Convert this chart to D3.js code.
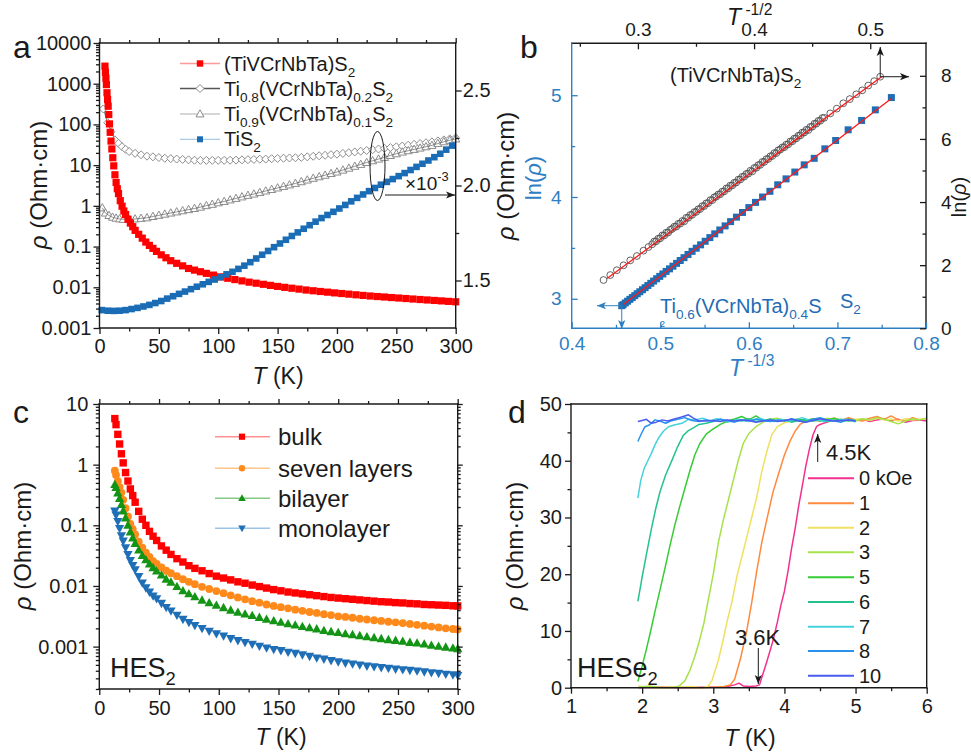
<!DOCTYPE html>
<html><head><meta charset="utf-8">
<script src="https://cdn.jsdelivr.net/npm/d3@7"></script>
<style>body{margin:0;background:#fff}svg{display:block}</style>
</head><body><svg id="fig" width="971" height="756"></svg>
<script>
// ---------------- DATA ----------------
// Panel a
const A_RED_T = [4.6,5.0,5.4,5.8,6.3,6.8,7.3,7.8,8.4,9.0,9.7,10.4,11.2,12.0,13,14,15,16,17.5,19,20.5,22,24,26,28,30,33,36,39,42,45,48,52,56,60,65,70,75,80,85,90,96,102,108,114,120,126,132,138,144,150,156,162,168,174,180,186,192,198,204,210,216,222,228,234,240,246,252,258,264,270,276,282,288,294,300];
const A_RED_RHO = [2700,1930,1370,950,600,410,280,175,103,64,39,25,15.2,9.6,5.8,3.76,2.63,2.0,1.34,0.98,0.748,0.612,0.469,0.378,0.308,0.25,0.200,0.161,0.129,0.107,0.0904,0.0762,0.0627,0.0531,0.045,0.0388,0.0336,0.029,0.0264,0.0241,0.022,0.0199,0.018,0.01667,0.01545,0.01436,0.01336,0.01259,0.01184,0.01114,0.0105,0.00997,0.00948,0.00902,0.00857,0.00822,0.00789,0.00759,0.00729,0.00703,0.00678,0.00654,0.00631,0.00611,0.00593,0.00577,0.0056,0.00545,0.0053,0.00515,0.00501,0.00488,0.00475,0.00463,0.00451,0.0044];
const A_TIS2_T = [2,7,12,17,22,27,32,37,42,47,52,57,62,67,72,77,82,87,92,97,102,107,112,117,122,127,132,137,142,147,152,157,162,167,172,177,182,187,192,197,202,207,212,217,222,227,232,237,242,247,252,257,262,267,272,277,282,287,292,297];
const A_TIS2_RHO = [0.00275,0.00266,0.00263,0.00266,0.00275,0.00292,0.00312,0.00338,0.0037,0.0041,0.0046,0.00527,0.00603,0.00689,0.00785,0.009,0.01032,0.01186,0.01358,0.01552,0.01774,0.0208,0.024,0.0283,0.034,0.0414,0.051,0.063,0.078,0.0966,0.119,0.147,0.182,0.223,0.274,0.335,0.409,0.501,0.598,0.714,0.861,1.054,1.29,1.57,1.905,2.30,2.75,3.31,3.88,4.55,5.37,6.38,7.59,9.06,10.8,13.0,15.7,19.05,24.0,30.2];
const A_TI08_T = [3.2,6.9,9.7,13,16,19,22,25,30,35,40,45,50,55,60,65,70,75,80,85,90,95,100,105,110,115,120,125,130,135,140,145,150,155,160,165,170,175,180,185,190,195,200,205,210,215,220,225,230,235,240,245,250,255,260,265,270,275,280,285,290,295,300];
const A_TI08_RHO = [240,110,66,41.7,34.4,28.4,24.5,21.6,19.5,18.0,16.6,16.0,15.4,14.8,14.45,14.1,13.8,13.5,13.2,13.1,13.1,13.1,13.1,13.1,13.2,13.3,13.5,13.6,13.8,14.0,14.1,14.4,14.6,14.8,15.0,15.2,15.5,16.0,16.5,17.0,17.5,18.1,18.6,19.4,20.2,21.1,22.0,22.9,23.9,24.9,25.9,27.0,28.2,29.5,30.9,32.4,33.9,35.5,37.2,39.4,41.7,44.2,46.8];
const A_TI09_T = [2.4,5,8,11,14,17,20,25,30,35,40,45,50,55,60,65,70,75,80,85,90,95,100,105,110,115,120,125,130,135,140,145,150,155,160,165,170,175,180,185,190,195,200,205,210,215,220,225,230,235,240,245,250,255,260,265,270,275,280,285,290,295,300];
const A_TI09_RHO_E3 = [1.882,1.855,1.842,1.833,1.828,1.824,1.822,1.821,1.824,1.827,1.830,1.837,1.843,1.849,1.855,1.861,1.867,1.873,1.879,1.886,1.894,1.901,1.909,1.916,1.924,1.932,1.940,1.948,1.955,1.963,1.971,1.979,1.987,1.995,2.003,2.011,2.020,2.029,2.038,2.046,2.054,2.063,2.071,2.081,2.091,2.101,2.111,2.121,2.130,2.139,2.148,2.158,2.167,2.176,2.183,2.190,2.197,2.204,2.211,2.221,2.230,2.238,2.245];
const A_LEFT_TICKS = [0.001,0.01,0.1,1,10,100,1000,10000];
const A_RIGHT_TICKS = [1.5,2.0,2.5];
const A_X_TICKS = [0,50,100,150,200,250,300];

// Panel b
const B_HE_X = [0.2704,0.2762,0.2819,0.2876,0.2934,0.2991,0.3048,0.3091,0.3123,0.3157,0.3192,0.3226,0.3261,0.3295,0.3330,0.3364,0.3399,0.3433,0.3467,0.3502,0.3536,0.3571,0.3605,0.3640,0.3674,0.3709,0.3743,0.3778,0.3812,0.3846,0.3881,0.3915,0.3950,0.3984,0.4019,0.4053,0.4088,0.4122,0.4157,0.4191,0.4225,0.4260,0.4294,0.4329,0.4363,0.4398,0.4432,0.4467,0.4501,0.4536,0.4570,0.4604,0.4656,0.4712,0.4768,0.4824,0.4880,0.4931,0.4983,0.5034,0.5086,
  0.3140,0.3175,0.3209,0.3244,0.3278,0.3313,0.3347,0.3382,0.3416,0.3450,0.3485,0.3519,0.3554,0.3588,0.3623,0.3657,0.3692,0.3726,0.3761,0.3795,0.3829,0.3864,0.3898,0.3933,0.3967,0.4002,0.4036,0.4071,0.4105,0.4140,0.4174,0.4208,0.4243,0.4277,0.4312,0.4346,0.4381,0.4415,0.4450,0.4484,0.4519,0.4553,0.4587];
const B_HE_LN = [1.53,1.687,1.841,1.995,2.152,2.29,2.460,2.576,2.663,2.755,2.850,2.941,3.036,3.15,3.223,3.315,3.39,3.501,3.593,3.688,3.780,3.874,3.966,4.061,4.17,4.248,4.339,4.434,4.526,4.618,4.713,4.805,4.899,4.97,5.086,5.178,5.272,5.364,5.459,5.551,5.66,5.737,5.829,5.924,6.016,6.111,6.203,6.28,6.389,6.484,6.576,6.668,6.809,6.960,7.13,7.262,7.414,7.54,7.692,7.830,7.971,
  2.75,2.84,2.94,3.03,3.12,3.22,3.31,3.40,3.50,3.59,3.68,3.77,3.87,3.96,4.06,4.15,4.24,4.33,4.43,4.52,4.61,4.71,4.80,4.89,4.99,5.08,5.17,5.27,5.36,5.45,5.55,5.64,5.73,5.82,5.92,6.01,6.10,6.20,6.29,6.38,6.48,6.57,6.66];
const B_HE_FIT_X = [0.2734,0.5101];
const B_HE_FIT_LN = [1.576,7.978];
const B_TI06_X = [0.7609,0.7428,0.7273,0.7121,0.6980,0.6858,0.6738,0.6625,0.6519,0.6420,0.6326,0.6238,0.6155,0.6075,0.6000,0.5928,0.5860,0.5794,0.5732,0.5672,0.5615,0.5560,0.5507,0.5455,0.5406,0.5359,0.5313,0.5268,0.5225,0.5184,0.5143,0.5104,0.5066,0.5029,0.4994,0.4959,0.4925,0.4893,0.4860,0.4829,0.4799,0.4769,0.4740,0.4712,0.4684,0.4657,0.4631,0.4605,0.4580,0.4565];
const B_TI06_LN = [4.977,4.856,4.752,4.66,4.555,4.473,4.38,4.316,4.245,4.178,4.12,4.056,4.000,3.947,3.896,3.848,3.802,3.758,3.716,3.676,3.638,3.601,3.565,3.530,3.497,3.466,3.435,3.404,3.376,3.348,3.320,3.294,3.269,3.244,3.220,3.197,3.174,3.152,3.130,3.109,3.089,3.069,3.050,3.031,3.012,2.994,2.976,2.959,2.942,2.932];
const B_TI06_FIT_X = [0.4583,0.7613];
const B_TI06_FIT_LN = [2.944,4.97];

// Panel c
const C_T = [13,14,15.5,17,18.5,20,22,24,26,28,30,33,36,39,42,45,48,52,56,60,65,70,75,80,86,92,98,104,110,116,122,128,134,140,146,152,158,164,170,176,182,188,194,200,206,212,218,224,230,236,242,248,254,260,266,272,278,284,290,296,300];
const C_BULK = [5.75,4.57,3.16,2.19,1.51,1.07,0.741,0.537,0.398,0.309,0.240,0.170,0.126,0.100,0.0794,0.0661,0.0562,0.0457,0.0389,0.0331,0.0282,0.0248,0.0216,0.0195,0.0178,0.0160,0.0145,0.0135,0.0126,0.0117,0.0111,0.01035,0.00977,0.00923,0.00871,0.00832,0.00794,0.00767,0.00741,0.00716,0.00692,0.00668,0.00646,0.00631,0.00617,0.00603,0.00589,0.00575,0.00562,0.00550,0.00543,0.00531,0.00525,0.00513,0.00507,0.00495,0.00490,0.00484,0.00479,0.00471,0.00468];
const C_SEVEN = [0.794,0.676,0.537,0.427,0.347,0.263,0.191,0.140,0.105,0.0861,0.0708,0.0537,0.0427,0.0355,0.0302,0.0257,0.0232,0.0202,0.0178,0.0162,0.0145,0.0129,0.0117,0.0107,0.00966,0.00891,0.00822,0.00759,0.00700,0.00646,0.00603,0.00562,0.00531,0.00495,0.00468,0.00447,0.00427,0.00407,0.00389,0.00372,0.00359,0.00343,0.00331,0.00316,0.00309,0.00299,0.00288,0.00280,0.00272,0.00265,0.00257,0.00251,0.00244,0.00237,0.00229,0.00221,0.00214,0.00207,0.00200,0.00195,0.00192];
const C_BI = [0.468,0.417,0.339,0.275,0.219,0.172,0.132,0.100,0.0776,0.0617,0.0501,0.0389,0.0316,0.0269,0.0229,0.0200,0.0176,0.0151,0.0129,0.0115,0.00977,0.00832,0.00741,0.00661,0.00582,0.00525,0.00479,0.00437,0.00398,0.00367,0.00343,0.00324,0.00302,0.00282,0.00266,0.00251,0.00237,0.00226,0.00214,0.00204,0.00195,0.00184,0.00176,0.00170,0.00162,0.00157,0.00151,0.00145,0.00140,0.00135,0.00130,0.00126,0.00122,0.00117,0.00114,0.00110,0.00105,0.00101,0.000977,0.000944,0.000923];
const C_MONO = [0.172,0.148,0.116,0.0891,0.0676,0.0550,0.0427,0.0331,0.0263,0.0219,0.0186,0.0143,0.0112,0.00933,0.00794,0.00684,0.00617,0.00519,0.00442,0.00389,0.00331,0.00282,0.00251,0.00224,0.00200,0.00180,0.00164,0.00150,0.00136,0.00126,0.00117,0.00110,0.00102,0.000955,0.000902,0.000861,0.000813,0.000776,0.000733,0.000692,0.000653,0.000624,0.000589,0.000562,0.000537,0.000519,0.000501,0.000479,0.000468,0.000452,0.000442,0.000427,0.000417,0.000407,0.000398,0.000385,0.000372,0.000363,0.000351,0.000343,0.000336];
const C_LABELS = ['bulk','seven layers','bilayer','monolayer'];
const C_LEFT_TICKS = [0.001,0.01,0.1,1,10];

// Panel d
const D_LABELS = ['0 kOe','1','2','3','5','6','7','8','10'];
const D_T0 = [1.95,2.2,2.5,2.8,3.05,3.2,3.3,3.36,3.42,3.5,3.6,3.65,3.7,3.75,3.84,3.9,3.95,4.0,4.05,4.1,4.15,4.2,4.25,4.3,4.35,4.4,4.45,4.5,4.6,4.7,4.8,4.9,5.0,5.1,5.2,5.3,5.4,5.5,5.6,5.7,5.8,5.9,6.0];
const D_R0 = [0,0.1,0,0.1,0.1,0.2,0.5,0.8,0.3,0.2,0.3,0.5,2.5,4.5,8.3,11.5,14.5,17,20.5,24.5,28,32,35.5,39,42,44.5,46,46.4,46.8,47.2,47.0,47.4,47.1,47.3,46.9,47.2,47.4,47.0,47.3,46.8,47.1,47.2,47.0];
const D_T1 = [1.95,2.2,2.5,2.8,3.0,3.15,3.24,3.3,3.38,3.47,3.54,3.61,3.68,3.75,3.84,3.92,4.0,4.08,4.15,4.22,4.3,4.4,4.5,4.6,4.7,4.8,4.9,5.0,5.1,5.2,5.3,5.4,5.5,5.6,5.7,5.8,5.9,6.0];
const D_R1 = [0.2,0.1,0.1,0,0.1,0.2,0.5,1.5,5,10,15,20.5,25.5,29.5,34.5,37.8,41,43.5,45.2,46.4,47,47.2,47.0,47.3,47.5,47.1,47.6,47.2,47.0,47.5,47.8,47.3,47.9,47.2,47.0,47.6,47.2,47.5];
const D_T2 = [1.95,2.2,2.5,2.7,2.85,2.93,2.98,3.07,3.14,3.2,3.26,3.33,3.4,3.47,3.54,3.61,3.68,3.75,3.82,3.9,4.0,4.1,4.2,4.3,4.4,4.5,4.6,4.7,4.8,4.9,5.0,5.1,5.2,5.3,5.4,5.5,5.6,5.7,5.8,5.9,6.0];
const D_R2 = [0.2,0,0.1,0.2,0,0.3,1.2,4.8,8.5,12,15,19.5,23,26.5,30,33.5,38,41.5,44.5,46,46.7,47,47.2,47.3,47.0,47.4,47.1,47.5,47.2,47.0,47.3,47.4,47.1,47.5,47.2,47.3,47.0,47.4,47.2,47.3,47.4];
const D_T3 = [1.95,2.1,2.3,2.45,2.52,2.6,2.67,2.74,2.8,2.87,2.93,3.0,3.07,3.14,3.21,3.28,3.35,3.42,3.5,3.6,3.7,3.8,3.9,4.0,4.1,4.2,4.3,4.4,4.5,4.6,4.7,4.8,4.9,5.0,5.1,5.2,5.3,5.4,5.5,5.6,5.7,5.8,5.9,6.0];
const D_R3 = [0.1,0.3,0,0.1,0.3,1.2,3,5.5,8,11.5,15.5,20,25.5,29.5,33,36.5,40,43,44.8,46,46.8,47.3,47.5,47.0,47.2,47.4,46.9,47.3,47.1,47.5,47.2,46.9,47.3,47.0,47.4,47.2,47.6,47.3,46.9,46.5,47.0,47.4,47.2,47.5];
const D_T5 = [1.94,2.0,2.06,2.12,2.18,2.25,2.32,2.39,2.46,2.53,2.6,2.67,2.74,2.81,2.9,3.0,3.1,3.2,3.31,3.4,3.5,3.6,3.7,3.8,3.9,4.0,4.1,4.2,4.3,4.4,4.5,4.6,4.7,4.8,4.9,5.0];
const D_R5 = [1.1,3.8,6.8,10,13.4,17.2,21,25,28.7,32,35.1,38.2,41,43,44.7,45.6,46.4,47,47.4,47.8,47.2,47.9,47.1,47.3,47.0,47.2,46.9,47.3,47.1,47.4,47.0,47.2,47.5,47.1,47.3,47.0];
const D_T6 = [1.94,2.0,2.06,2.13,2.19,2.25,2.33,2.42,2.5,2.58,2.65,2.72,2.8,2.9,3.0,3.1,3.2,3.3,3.4,3.5,3.6,3.7,3.8,3.9,4.0,4.1,4.2,4.3,4.4,4.5,4.6,4.7,4.8,4.9,5.0];
const D_R6 = [15.2,19.5,23.5,28,31.5,34.5,37.5,40.1,42.5,44.5,45.3,45.8,46.4,46.6,46.9,47.3,46.8,47.2,47.0,47.4,46.9,47.1,47.3,47.0,47.2,46.8,47.1,47.3,47.0,47.2,46.9,47.1,47.3,47.0,47.2];
const D_T7 = [1.94,1.98,2.03,2.08,2.13,2.18,2.23,2.3,2.37,2.45,2.56,2.65,2.74,2.85,2.95,3.05,3.15,3.25,3.35,3.45,3.55,3.65,3.75,3.85,3.95,4.05,4.15,4.25,4.35,4.45,4.55,4.65,4.75,4.85,4.95,5.0];
const D_R7 = [33.4,36.5,38.7,40,41.3,42.8,44,45.2,46,46.3,46.6,47.3,47.2,47.5,47.0,47.4,47.1,46.9,47.3,47.0,47.2,47.5,47.1,46.9,47.3,47.0,47.2,47.6,47.1,47.3,46.9,47.2,47.0,47.3,47.1,46.8];
const D_T8 = [1.94,1.99,2.04,2.1,2.18,2.25,2.33,2.4,2.5,2.6,2.7,2.8,2.9,3.0,3.1,3.2,3.3,3.4,3.5,3.6,3.7,3.8,3.9,4.0,4.1,4.2,4.3,4.4,4.5,4.6,4.7,4.8,4.9,5.0];
const D_R8 = [43.4,44.8,46,46.3,47.2,47.0,46.6,47.0,47.3,47.6,47.1,46.9,47.2,47.0,47.3,47.1,46.8,47.2,47.0,47.3,47.1,46.9,47.2,47.0,47.4,47.1,46.8,47.3,47.6,47.2,47.0,46.8,47.2,47.0];
const D_T10 = [1.94,2.0,2.06,2.13,2.2,2.28,2.36,2.44,2.52,2.6,2.65,2.72,2.8,2.9,3.0,3.1,3.2,3.3,3.4,3.5,3.6,3.7,3.8,3.9,4.0,4.1,4.2,4.3,4.4,4.5,4.6,4.7,4.8,4.9,5.0];
const D_R10 = [46.9,47.1,47.3,46.6,46.8,47.2,47.0,47.3,47.6,47.9,48.1,47.5,47.0,47.0,47.1,46.9,47.2,47.0,47.2,47.1,46.8,47.0,47.2,46.9,47.1,47.3,47.0,46.8,47.1,47.4,47.2,47.0,47.1,47.2,47.0];

// ---------------- DRAWING ----------------
const svg = d3.select('#fig');
const FONT = '"Liberation Sans", Arial, Helvetica, sans-serif';
const K = '#1a1a1a';
const BLUEAX = '#2f80c3';
svg.append('rect').attr('width',971).attr('height',756).attr('fill','#fff');
const defs = svg.append('defs');
function arrowMarker(id, color){
  defs.append('marker').attr('id',id).attr('viewBox','0 0 10 10').attr('refX',10).attr('refY',5)
    .attr('markerWidth',10).attr('markerHeight',9).attr('markerUnits','userSpaceOnUse').attr('orient','auto')
    .append('path').attr('d','M0,1L10,5L0,9L2.5,5Z').attr('fill',color);
}
arrowMarker('ahK', K); arrowMarker('ahB', BLUEAX);

function rich(sel, x, y, parts, fs, opts={}){
  const t = sel.append('text').attr('x',x).attr('y',y).attr('font-size',fs)
    .attr('font-family',FONT).attr('text-anchor',opts.anchor||'start').attr('fill',opts.fill||K);
  if (opts.rotate) t.attr('transform',`rotate(${opts.rotate},${x},${y})`);
  let shift = 0;
  parts.forEach(p=>{
    const [s,k] = typeof p==='string' ? [p,''] : p;
    const target = k==='sub' ? fs*0.3 : (k==='sup' ? -fs*0.45 : 0);
    const ts = t.append('tspan').text(s).attr('dy', target - shift);
    shift = target;
    if (k==='sub'||k==='sup') ts.attr('font-size', fs*0.68);
    if (k==='i') ts.attr('font-style','italic');
  });
  return t;
}
function drawAxis(parent, gen, o){
  gen.tickValues(o.values).tickSizeInner(o.size).tickSizeOuter(0).tickPadding(o.pad||3);
  gen.tickFormat(o.format===undefined ? '' : o.format);
  const g = parent.append('g').attr('transform',`translate(${o.x||0},${o.y||0})`).call(gen);
  g.attr('font-family',FONT).attr('font-size',o.fs||20);
  g.select('.domain').remove();
  g.selectAll('line').attr('stroke',o.color||K).attr('stroke-width',1.3);
  g.selectAll('text').attr('fill',o.color||K);
  return g;
}
function frame(g, x0,y0,x1,y1, cols){
  const c = cols || [K,K,K,K]; // top,right,bottom,left
  const seg = [[x0,y0,x1,y0],[x1,y0,x1,y1],[x0,y1,x1,y1],[x0,y0,x0,y1]];
  seg.forEach((s,i)=>g.append('line').attr('x1',s[0]).attr('y1',s[1]).attr('x2',s[2]).attr('y2',s[3])
    .attr('stroke',c[i]).attr('stroke-width',1.4).attr('stroke-linecap','square'));
}
function minorLog(lo, hi){
  const out=[];
  for(let e=Math.floor(Math.log10(lo)); e<Math.round(Math.log10(hi)); e++)
    for(let m=2;m<=9;m++){ const v=m*Math.pow(10,e); if(v>=lo*0.999 && v<=hi) out.push(v); }
  return out;
}
const SHAPES = {
  sq: s=>`M${-s},${-s}h${2*s}v${2*s}h${-2*s}Z`,
  di: s=>`M0,${-s}L${s},0L0,${s}L${-s},0Z`,
  tu: s=>`M0,${-s}L${s*0.95},${s*0.7}L${-s*0.95},${s*0.7}Z`,
  td: s=>`M0,${s}L${s*0.95},${-s*0.7}L${-s*0.95},${-s*0.7}Z`,
  ci: s=>`M${-s},0a${s},${s} 0 1,0 ${2*s},0a${s},${s} 0 1,0 ${-2*s},0Z`
};
function marks(g, xs, ys, xsc, ysc, shape, s, fill, stroke, sw){
  g.selectAll(null).data(xs.map((x,i)=>[x,ys[i]])).enter().append('path')
    .attr('transform',d=>`translate(${xsc(d[0]).toFixed(2)},${ysc(d[1]).toFixed(2)})`)
    .attr('d',SHAPES[shape](s)).attr('fill',fill).attr('stroke',stroke||'none').attr('stroke-width',sw||0);
}
function pline(g, xs, ys, xsc, ysc, color, w){
  const ln = d3.line().x(d=>xsc(d[0])).y(d=>ysc(d[1]));
  g.append('path').attr('d',ln(xs.map((x,i)=>[x,ys[i]]))).attr('fill','none').attr('stroke',color).attr('stroke-width',w).attr('stroke-linejoin','round');
}

// ===== Panel a =====
{
  const g = svg.append('g');
  const x = d3.scaleLinear().domain([0,300]).range([99.5,455.7]);
  const y = d3.scaleLog().domain([0.001,10000]).range([328,43]);
  const yR = d3.scaleLinear().domain([1.25,2.75]).range([328,43]);
  const RED='#ff0000', BLU='#1a6db5';
  pline(g, A_TI08_T, A_TI08_RHO, x, y, '#555', 0.8);
  marks(g, A_TI08_T, A_TI08_RHO, x, y, 'di', 4.0, '#fff', '#8c8c8c', 1);
  marks(g, A_TI09_T, A_TI09_RHO_E3, x, yR, 'tu', 4.3, '#fff', '#8c8c8c', 1);
  pline(g, A_TI09_T, A_TI09_RHO_E3, x, yR, '#666', 0.7);
  marks(g, A_RED_T, A_RED_RHO, x, y, 'sq', 3.6, RED);
  marks(g, A_TIS2_T, A_TIS2_RHO, x, y, 'sq', 3.3, BLU);
  frame(g, 99.5,43,455.7,328);
  drawAxis(g, d3.axisLeft(y), {x:99.5, values:A_LEFT_TICKS, size:6, pad:2, format:d=>String(d)});
  drawAxis(g, d3.axisLeft(y), {x:99.5, values:minorLog(0.001,10000), size:3.5});
  drawAxis(g, d3.axisBottom(x), {y:328, values:A_X_TICKS, size:6, pad:5, format:d=>String(d)});
  drawAxis(g, d3.axisBottom(x), {y:328, values:[25,75,125,175,225,275], size:3.5});
  drawAxis(g, d3.axisTop(x), {y:43, values:A_X_TICKS, size:5});
  drawAxis(g, d3.axisTop(x), {y:43, values:[25,75,125,175,225,275], size:3});
  drawAxis(g, d3.axisRight(yR), {x:455.7, values:A_RIGHT_TICKS, size:6, pad:1, format:d3.format('.1f')});
  drawAxis(g, d3.axisRight(yR), {x:455.7, values:[1.75,2.25], size:3.5});
  const LEG = [
    {y:63.5, lc:'#ff9a9a', sh:'sq', s:3.2, f:RED, st:null, parts:['(TiVCrNbTa)S',['2','sub']]},
    {y:88.5, lc:'#555', sh:'di', s:4, f:'#fff', st:'#8c8c8c', parts:['Ti',['0.8','sub'],'(VCrNbTa)',['0.2','sub'],'S',['2','sub']]},
    {y:114, lc:'#c8c8c8', sh:'tu', s:4.2, f:'#fff', st:'#8c8c8c', parts:['Ti',['0.9','sub'],'(VCrNbTa)',['0.1','sub'],'S',['2','sub']]},
    {y:139.3, lc:'#a8cbe8', sh:'sq', s:3, f:BLU, st:null, parts:['TiS',['2','sub']]}
  ];
  LEG.forEach(l=>{
    g.append('line').attr('x1',180).attr('x2',220).attr('y1',l.y).attr('y2',l.y).attr('stroke',l.lc).attr('stroke-width',1.3);
    g.append('path').attr('transform',`translate(200,${l.y})`).attr('d',SHAPES[l.sh](l.s)).attr('fill',l.f).attr('stroke',l.st||'none').attr('stroke-width',1);
    rich(g, 224, l.y+7, l.parts, 20);
  });
  g.append('ellipse').attr('cx',377.5).attr('cy',166).attr('rx',7.5).attr('ry',34.5).attr('fill','none').attr('stroke',K).attr('stroke-width',1);
  g.append('line').attr('x1',385).attr('y1',195).attr('x2',455).attr('y2',195).attr('stroke',K).attr('stroke-width',1).attr('marker-end','url(#ahK)');
  rich(g, 405, 190, ['×10',['-3','sup']], 19);
  rich(g, 13, 58, ['a'], 32);
  rich(g, 47, 185, [['ρ','i'],' (Ohm·cm)'], 24, {anchor:'middle', rotate:-90});
  rich(g, 278, 384, [['T','i'],' (K)'], 23, {anchor:'middle'});
}

// ===== Panel b =====
{
  const g = svg.append('g');
  const xb = d3.scaleLinear().domain([0.4,0.8]).range([571.7,926]);
  const yl = d3.scaleLinear().domain([2.71,5.51]).range([328.3,43.3]);
  const xt = d3.scaleLinear().domain([0.243,0.548]).range([571.7,926]);
  const yr = d3.scaleLinear().domain([0,9.03]).range([328.3,43.3]);
  const BLU = '#1f6db5';
  marks(g, B_HE_X, B_HE_LN, xt, yr, 'ci', 3.4, 'none', '#505050', 0.9);
  pline(g, B_HE_FIT_X, B_HE_FIT_LN, xt, yr, '#ff1a1a', 1.3);
  marks(g, B_TI06_X, B_TI06_LN, xb, yl, 'sq', 3.5, BLU);
  pline(g, B_TI06_FIT_X, B_TI06_FIT_LN, xb, yl, '#ff1a1a', 1.3);
  frame(g, 571.7,43.3,926,328.3, [K,K,BLUEAX,BLUEAX]);
  drawAxis(g, d3.axisLeft(yl), {x:571.7, values:[3,4,5], size:-6, pad:10, format:d3.format('d'), color:BLUEAX, fs:19});
  drawAxis(g, d3.axisLeft(yl), {x:571.7, values:[3.5,4.5], size:-3.5, color:BLUEAX});
  drawAxis(g, d3.axisBottom(xb), {y:328.3, values:[0.4,0.5,0.6,0.7,0.8], size:-6, pad:8, format:d3.format('.1f'), color:BLUEAX, fs:19});
  drawAxis(g, d3.axisBottom(xb), {y:328.3, values:[0.45,0.55,0.65,0.75], size:-3.5, color:BLUEAX});
  drawAxis(g, d3.axisTop(xt), {y:43.3, values:[0.3,0.4,0.5], size:-6, pad:7, format:d3.format('.1f'), fs:19});
  drawAxis(g, d3.axisTop(xt), {y:43.3, values:[0.25,0.35,0.45], size:-3.5});
  drawAxis(g, d3.axisRight(yr), {x:926, values:[0,2,4,6,8], size:-6, pad:15, format:d3.format('d'), fs:19});
  drawAxis(g, d3.axisRight(yr), {x:926, values:[1,3,5,7], size:-3.5});
  const ex = xt(B_HE_X[60]), ey = yr(B_HE_LN[60]);
  g.append('line').attr('x1',ex).attr('y1',ey).attr('x2',ex).attr('y2',47).attr('stroke',K).attr('stroke-width',1).attr('marker-end','url(#ahK)');
  g.append('line').attr('x1',ex).attr('y1',ey).attr('x2',909).attr('y2',ey).attr('stroke',K).attr('stroke-width',1).attr('marker-end','url(#ahK)');
  const sx = xb(B_TI06_X[B_TI06_X.length-1]), sy = yl(B_TI06_LN[B_TI06_LN.length-1]);
  g.append('line').attr('x1',sx).attr('y1',sy).attr('x2',597).attr('y2',sy).attr('stroke',BLUEAX).attr('stroke-width',1).attr('marker-end','url(#ahB)');
  g.append('line').attr('x1',sx).attr('y1',sy).attr('x2',sx).attr('y2',329).attr('stroke',BLUEAX).attr('stroke-width',1).attr('marker-end','url(#ahB)');
  rich(g, 670, 82, ['(TiVCrNbTa)S',['2','sub']], 20);
  rich(g, 660, 313, ['Ti',['0.6','sub'],'(VCrNbTa)',['0.4','sub'],'S'], 20, {fill:BLU});
  rich(g, 840, 308, ['S',['2','sub']], 20, {fill:BLU});
  rich(g, 660, 326.5, ['2'], 9, {fill:BLU});
  rich(g, 520, 58, ['b'], 32);
  rich(g, 514, 176, [['ρ','i'],' (Ohm·cm)'], 24, {anchor:'middle', rotate:-90});
  rich(g, 541, 178, ['ln(',['ρ','i'],')'], 22, {anchor:'middle', rotate:-90, fill:BLUEAX});
  rich(g, 966, 197, ['ln(',['ρ','i'],')'], 20, {anchor:'middle', rotate:-90});
  rich(g, 729, 376, [['T','i'],[' -1/3','sup']], 23, {fill:BLUEAX});
  rich(g, 727, 25, [['T','i'],[' -1/2','sup']], 23);
}

// ===== Panel c =====
{
  const g = svg.append('g');
  const x = d3.scaleLinear().domain([0,300]).range([99.3,457.7]);
  const y = d3.scaleLog().domain([0.0002,10]).range([689,404]);
  const SER = [
    {d:C_BULK, c:'#ff0000', lc:'#ff9090', sh:'sq', s:3.7, ls:3.1},
    {d:C_SEVEN, c:'#ff8a1c', lc:'#ffc58a', sh:'ci', s:3.9, ls:3.2},
    {d:C_BI, c:'#149414', lc:'#86c986', sh:'tu', s:4.9, ls:4.0},
    {d:C_MONO, c:'#1f6fb7', lc:'#9cc4e6', sh:'td', s:4.9, ls:4.0}
  ];
  SER.forEach(s=>marks(g, C_T, s.d, x, y, s.sh, s.s, s.c));
  frame(g, 99.3,404,457.7,689);
  drawAxis(g, d3.axisLeft(y), {x:99.3, values:C_LEFT_TICKS, size:6, pad:5, format:d=>String(d)});
  drawAxis(g, d3.axisLeft(y), {x:99.3, values:minorLog(0.0002,10), size:3.5});
  drawAxis(g, d3.axisRight(y), {x:457.7, values:C_LEFT_TICKS, size:5});
  drawAxis(g, d3.axisRight(y), {x:457.7, values:minorLog(0.0002,10), size:3});
  drawAxis(g, d3.axisBottom(x), {y:689, values:A_X_TICKS, size:6, pad:6, format:d=>String(d)});
  drawAxis(g, d3.axisBottom(x), {y:689, values:[25,75,125,175,225,275], size:3.5});
  drawAxis(g, d3.axisTop(x), {y:404, values:A_X_TICKS, size:5});
  drawAxis(g, d3.axisTop(x), {y:404, values:[25,75,125,175,225,275], size:3});
  const LY = [436.7,468.3,498.3,528.3];
  SER.forEach((s,i)=>{
    g.append('line').attr('x1',215).attr('x2',270).attr('y1',LY[i]).attr('y2',LY[i]).attr('stroke',s.lc).attr('stroke-width',1.4);
    g.append('path').attr('transform',`translate(242,${LY[i]})`).attr('d',SHAPES[s.sh](s.ls)).attr('fill',s.c);
    rich(g, 278, LY[i]+8.5, [C_LABELS[i]], 24);
  });
  rich(g, 110, 677, ['HES',['2','sub']], 27);
  rich(g, 13, 423, ['c'], 32);
  rich(g, 31, 546, [['ρ','i'],' (Ohm·cm)'], 24, {anchor:'middle', rotate:-90});
  rich(g, 281, 745, [['T','i'],' (K)'], 23, {anchor:'middle'});
}

// ===== Panel d =====
{
  const g = svg.append('g');
  const x = d3.scaleLinear().domain([1,6]).range([571,926.7]);
  const y = d3.scaleLinear().domain([0,50]).range([687.7,404]);
  const SER = [
    {t:D_T0, r:D_R0, c:'#f2318f'},
    {t:D_T1, r:D_R1, c:'#ff8a3d'},
    {t:D_T2, r:D_R2, c:'#f0e060'},
    {t:D_T3, r:D_R3, c:'#a6e24a'},
    {t:D_T5, r:D_R5, c:'#35cc35'},
    {t:D_T6, r:D_R6, c:'#25c28e'},
    {t:D_T7, r:D_R7, c:'#45d2dc'},
    {t:D_T8, r:D_R8, c:'#2a92ee'},
    {t:D_T10, r:D_R10, c:'#4a5cf0'}
  ];
  SER.forEach(s=>pline(g, s.t, s.r, x, y, s.c, 1.5));
  frame(g, 571,404,926.7,687.7);
  drawAxis(g, d3.axisLeft(y), {x:571, values:[0,10,20,30,40,50], size:6, pad:3, format:d3.format('d')});
  drawAxis(g, d3.axisLeft(y), {x:571, values:[5,15,25,35,45], size:3.5});
  drawAxis(g, d3.axisBottom(x), {y:687.7, values:[1,2,3,4,5,6], size:6, pad:5, format:d3.format('d')});
  drawAxis(g, d3.axisBottom(x), {y:687.7, values:[1.5,2.5,3.5,4.5,5.5], size:3.5});
  const LY = [478.3,503.3,527.7,552.3,577.3,602,626.7,651,675.7];
  SER.forEach((s,i)=>{
    g.append('line').attr('x1',808).attr('x2',854).attr('y1',LY[i]).attr('y2',LY[i]).attr('stroke',s.c).attr('stroke-width',2);
    rich(g, 859, LY[i]+7, [D_LABELS[i]], 20);
  });
  g.append('line').attr('x1',817.7).attr('y1',462).attr('x2',817.7).attr('y2',434).attr('stroke',K).attr('stroke-width',1).attr('marker-end','url(#ahK)');
  g.append('line').attr('x1',758.3).attr('y1',648).attr('x2',758.3).attr('y2',684).attr('stroke',K).attr('stroke-width',1).attr('marker-end','url(#ahK)');
  rich(g, 826, 459.5, ['4.5K'], 22);
  rich(g, 735, 644.5, ['3.6K'], 22);
  rich(g, 577, 677, ['HESe',['2','sub']], 27);
  rich(g, 508, 423, ['d'], 32);
  rich(g, 523, 546, [['ρ','i'],' (Ohm·cm)'], 24, {anchor:'middle', rotate:-90});
  rich(g, 750, 746, [['T','i'],' (K)'], 23, {anchor:'middle'});
}
</script></body></html>
